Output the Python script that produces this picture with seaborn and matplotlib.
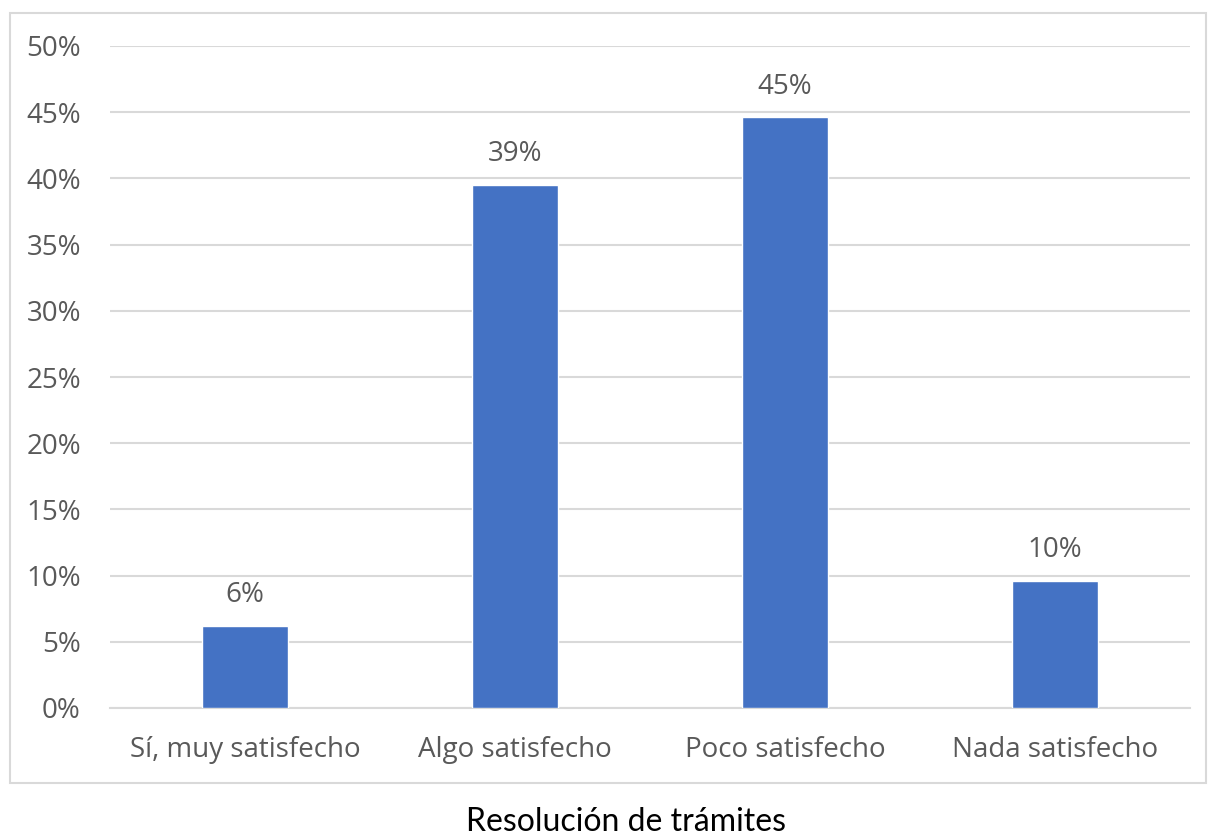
import matplotlib
matplotlib.use("Agg")
import matplotlib.pyplot as plt
import seaborn as sns
import pandas as pd
from matplotlib.patches import Rectangle
from matplotlib.ticker import PercentFormatter

# -----------------------------
# Data
# -----------------------------
categories = ["Sí, muy satisfecho", "Algo satisfecho", "Poco satisfecho", "Nada satisfecho"]
values = [6.2, 39.5, 44.6, 9.6]
labels = ["6%", "39%", "45%", "10%"]
x_title = "Resolución de trámites"

df = pd.DataFrame({"categoria": categories, "valor": values})

# -----------------------------
# Style
# -----------------------------
sns.set_theme(style="white")
plt.rcParams["font.family"] = ["Open Sans", "DejaVu Sans"]

BAR_COLOR = "#4472C4"
TEXT_COLOR = "#595959"
GRID_COLOR = "#D9D9D9"

fig = plt.figure(figsize=(12.08, 8.35), dpi=100)
ax = fig.add_axes([110 / 1208, 1 - 708 / 835, 1080 / 1208, 662 / 835])

sns.barplot(data=df, x="categoria", y="valor", color=BAR_COLOR,
            width=0.315, saturation=1, ax=ax, zorder=3)

ax.set_ylim(0, 50)
ax.set_yticks(range(0, 51, 5))
ax.yaxis.set_major_formatter(PercentFormatter(decimals=0))
ax.set_xlim(-0.5, len(categories) - 0.5)
ax.grid(axis="y", color=GRID_COLOR, linewidth=1.5, zorder=0)
ax.set_axisbelow(True)
for side in ["top", "right", "left"]:
    ax.spines[side].set_visible(False)
ax.spines["bottom"].set_color(GRID_COLOR)
ax.spines["bottom"].set_linewidth(1.5)

ax.tick_params(axis="both", length=0, labelsize=20, colors=TEXT_COLOR)
ax.tick_params(axis="x", pad=20)
ax.tick_params(axis="y", pad=21)
ax.set_xlabel("")
ax.set_ylabel("")

ax.bar_label(ax.containers[0], labels=labels, padding=12,
             fontsize=20, color=TEXT_COLOR)

# chart border
fig.patches.append(Rectangle((10 / 1208, 1 - 783 / 835), 1196 / 1208, 770 / 835,
                             transform=fig.transFigure, fill=False,
                             edgecolor=GRID_COLOR, linewidth=1.5))

fig.text(626 / 1208, 1 - 822 / 835, x_title, ha="center", va="center",
         fontsize=23, color="black", family=["Lato", "DejaVu Sans"])

fig.savefig("out.png", dpi=100)
plt.close(fig)
